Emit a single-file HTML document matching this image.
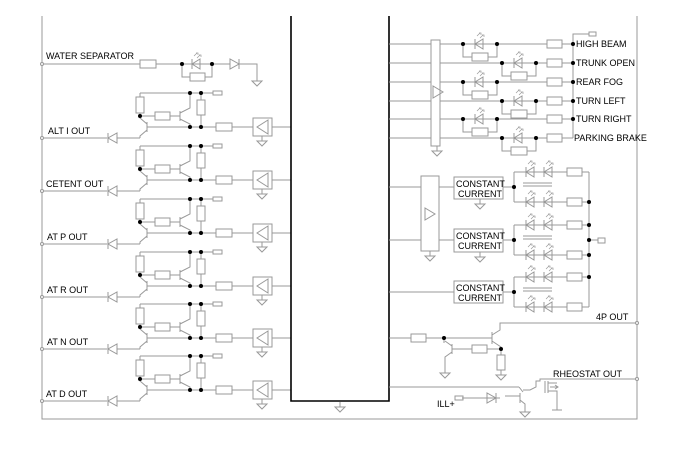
<!DOCTYPE html>
<html><head><meta charset="utf-8"><style>
html,body{margin:0;padding:0;background:#fff}
svg{display:block}
text{font-family:"Liberation Sans",sans-serif;font-size:9px;fill:#000}
</style></head><body>
<svg width="700" height="456" viewBox="0 0 700 456" xmlns="http://www.w3.org/2000/svg">
<defs>
<g id="gnd" fill="none" stroke="#999"><path d="M0,0V5M-5,5H5L0,10Z"/></g>
<g id="led" fill="none" stroke="#999"><path d="M8,-5V5L0,0Z M0,-5V5"/><path d="M2,-8l3,-3M4,-11h2v2M5,-6l3,-3M7,-9h2v2" stroke-width="0.7"/></g>
<g id="ch" fill="none" stroke="#999">
<path d="M42,0H107M117,0H140"/>
<path d="M117,-5V5L108,0Z M108,-5V5"/>
<path d="M147,-16V-6 M147,-14L140,-20V-22 M147,-8L140,-2V0 M147,-11H216"/>
<path d="M180,-27V-17 M170,-22H180 M180,-25L190,-30V-45 M180,-19L190,-14V-11"/>
<path d="M140,-45H213 M140,-45V-41 M140,-25V-22H155"/>
<rect x="136" y="-41" width="8" height="16"/>
<rect x="155" y="-26" width="15" height="8"/>
<rect x="213" y="-47" width="9" height="4"/>
<path d="M201,-45V-38 M201,-23V-11"/>
<rect x="197" y="-38" width="8" height="15"/>
<rect x="216" y="-15" width="16" height="8"/>
<path d="M232,-11H253 M272,-11H291"/>
<rect x="253" y="-20" width="19" height="18"/>
<path d="M268,-18V-4L257,-11Z"/>
<use href="#gnd" x="262" y="-2"/>
<g fill="#000" stroke="none"><circle cx="190" cy="-45" r="2"/><circle cx="201" cy="-45" r="2"/><circle cx="140" cy="-22" r="2"/><circle cx="190" cy="-11" r="2"/><circle cx="201" cy="-11" r="2"/></g>
</g>
<g id="lp" fill="none" stroke="#999">
<path d="M0,0H34 M0,0V13H9 M25,13H34V0"/>
<rect x="9" y="9" width="16" height="8"/>
<use href="#led" x="12" y="0"/>
<g fill="#000" stroke="none"><circle cx="0" cy="0" r="2"/><circle cx="34" cy="0" r="2"/></g>
</g>
</defs>

<g fill="none" stroke="#999">
<path d="M42,16V419H637V16"/>
<path d="M42,64H140 M156,64H257V80 M182,64V77H190 M205,77H212V64"/>
<rect x="140" y="60" width="16" height="8"/>
<rect x="190" y="73" width="15" height="8"/>
</g>
<use href="#led" x="192" y="64"/>
<g fill="#fff" stroke="#999"><path d="M230,59V69L239,64Z M239,59V69"/></g>
<use href="#gnd" x="257" y="76"/>
<circle cx="182" cy="64" r="2"/><circle cx="212" cy="64" r="2"/>
<circle cx="42" cy="64" r="1.5" fill="#fff" stroke="#999"/>

<use href="#ch" y="138"/><use href="#ch" y="191"/><use href="#ch" y="244"/>
<use href="#ch" y="297"/><use href="#ch" y="349"/><use href="#ch" y="401"/>
<g fill="#fff" stroke="#999">
<circle cx="42" cy="138" r="1.5"/><circle cx="42" cy="191" r="1.5"/><circle cx="42" cy="244" r="1.5"/>
<circle cx="42" cy="297" r="1.5"/><circle cx="42" cy="349" r="1.5"/><circle cx="42" cy="401" r="1.5"/>
</g>

<path d="M291,16V401H389V16" fill="none" stroke="#000" stroke-width="1.6"/>
<use href="#gnd" x="340" y="402"/>

<g fill="none" stroke="#999">
<path d="M389,44H431M389,63H431M389,82H431M389,101H431M389,119H431M389,138H431"/>
<rect x="431" y="40" width="9" height="106"/>
<path d="M433,86V98L443,92Z"/>
<path d="M440,44H547M440,63H547M440,82H547M440,101H547M440,119H547M440,138H547"/>
<path d="M562,44H573M562,63H573M562,82H573M562,101H573M562,119H573M562,138H573"/>
<rect x="547" y="40" width="15" height="8"/><rect x="547" y="59" width="15" height="8"/>
<rect x="547" y="78" width="15" height="8"/><rect x="547" y="97" width="15" height="8"/>
<rect x="547" y="115" width="15" height="8"/><rect x="547" y="134" width="15" height="8"/>
<path d="M573,44V34H589 M573,44V138"/>
<rect x="589" y="32" width="7" height="4"/>
</g>
<use href="#gnd" x="437" y="146"/>
<use href="#lp" x="463" y="44"/><use href="#lp" x="502" y="63"/>
<use href="#lp" x="463" y="82"/><use href="#lp" x="502" y="101"/>
<use href="#lp" x="463" y="119"/><use href="#lp" x="502" y="138"/>
<g fill="#000"><circle cx="573" cy="44" r="2"/><circle cx="573" cy="63" r="2"/><circle cx="573" cy="82" r="2"/><circle cx="573" cy="101" r="2"/><circle cx="573" cy="119" r="2"/></g>
<text x="576" y="47">HIGH BEAM</text>
<text x="576" y="66">TRUNK OPEN</text>
<text x="576" y="85">REAR FOG</text>
<text x="576" y="104">TURN LEFT</text>
<text x="576" y="122">TURN RIGHT</text>
<text x="574" y="141">PARKING BRAKE</text>

<g fill="none" stroke="#999">
<path d="M389,187H421M389,240H421M389,292H454M439,187H454M439,240H454"/>
<rect x="421" y="176" width="18" height="75"/>
<path d="M425,208V220L435,214Z"/>
<rect x="454" y="177" width="49" height="22"/>
<rect x="454" y="229" width="49" height="23"/>
<rect x="454" y="281" width="49" height="22"/>
<path d="M503,187H514M503,240H514M503,292H514"/>
<path d="M514,172V202M514,225V255M514,277V307"/>
<path d="M514,172H567M514,202H567M514,225H567M514,255H567M514,277H567M514,307H567"/>
<path d="M582,172H589M582,202H589M582,225H589M582,255H589M582,277H589M582,307H589M589,172V307M589,240H598"/>
<rect x="567" y="168" width="15" height="8"/><rect x="567" y="198" width="15" height="8"/>
<rect x="567" y="221" width="15" height="8"/><rect x="567" y="251" width="15" height="8"/>
<rect x="567" y="273" width="15" height="8"/><rect x="567" y="303" width="15" height="8"/>
<rect x="598" y="238" width="7" height="5"/>
<path d="M523,183H552M523,186H552M523,236H552M523,239H552M523,288H552M523,291H552"/>
</g>
<g fill="#fff">
<use href="#led" x="526" y="172"/><use href="#led" x="544" y="172"/>
<use href="#led" x="526" y="202"/><use href="#led" x="544" y="202"/>
<use href="#led" x="526" y="225"/><use href="#led" x="544" y="225"/>
<use href="#led" x="526" y="255"/><use href="#led" x="544" y="255"/>
<use href="#led" x="526" y="277"/><use href="#led" x="544" y="277"/>
<use href="#led" x="526" y="307"/><use href="#led" x="544" y="307"/>
</g>
<use href="#gnd" x="430" y="251"/><use href="#gnd" x="480" y="199"/><use href="#gnd" x="480" y="252"/>
<g fill="#000"><circle cx="514" cy="187" r="2"/><circle cx="514" cy="240" r="2"/><circle cx="514" cy="292" r="2"/>
<circle cx="589" cy="202" r="2"/><circle cx="589" cy="225" r="2"/><circle cx="589" cy="240" r="2"/><circle cx="589" cy="255" r="2"/><circle cx="589" cy="277" r="2"/></g>
<g font-size="8.5"><text x="456" y="187">CONSTANT</text><text x="458" y="197">CURRENT</text>
<text x="456" y="239">CONSTANT</text><text x="458" y="249">CURRENT</text>
<text x="456" y="291">CONSTANT</text><text x="458" y="301">CURRENT</text></g>

<g fill="none" stroke="#999">
<path d="M389,338H411M426,338H492 M444,338V343"/>
<rect x="411" y="334" width="15" height="8"/>
<path d="M492,332V344 M492,335L500,330V323H637 M492,341L501,347V349"/>
<path d="M452,344V354 M452,346L445,341 M452,352L445,357V368 M452,349H472 M487,349H501V355"/>
<rect x="472" y="345" width="15" height="8"/>
<rect x="497" y="355" width="8" height="15"/>
<path d="M389,387H519 M519,387L523,392 M523,390H530L536,387V381H540V379H637"/>
<path d="M520,393V403 M520,396H505 M500,398H462 M520,400L525,404V410"/>
<path d="M487,393V403L496,398Z M496,393V403"/>
<rect x="455" y="396" width="8" height="4"/>
<path d="M545,381V393 M548,381V393 M548,383H557 M548,391H557V402 M550,387H558 M555,385l3,2l-3,2"/>
<path d="M557,402V410 M552,410H562"/>
</g>
<use href="#gnd" x="445" y="368"/><use href="#gnd" x="501" y="370"/><use href="#gnd" x="525" y="407"/>
<g fill="#000"><circle cx="444" cy="338" r="2"/><circle cx="501" cy="349" r="2"/></g>
<g fill="#fff" stroke="#999"><circle cx="637" cy="323" r="1.5"/><circle cx="637" cy="379" r="1.5"/></g>
<text x="596" y="320">4P OUT</text>
<text x="553" y="377">RHEOSTAT OUT</text>
<text x="437" y="407">ILL+</text>

<text x="46" y="59">WATER SEPARATOR</text>
<text x="48" y="134">ALT I OUT</text>
<text x="46" y="187">CETENT OUT</text>
<text x="47" y="240">AT P OUT</text>
<text x="47" y="293">AT R OUT</text>
<text x="47" y="345">AT N OUT</text>
<text x="46" y="397">AT D OUT</text>
</svg>
</body></html>
